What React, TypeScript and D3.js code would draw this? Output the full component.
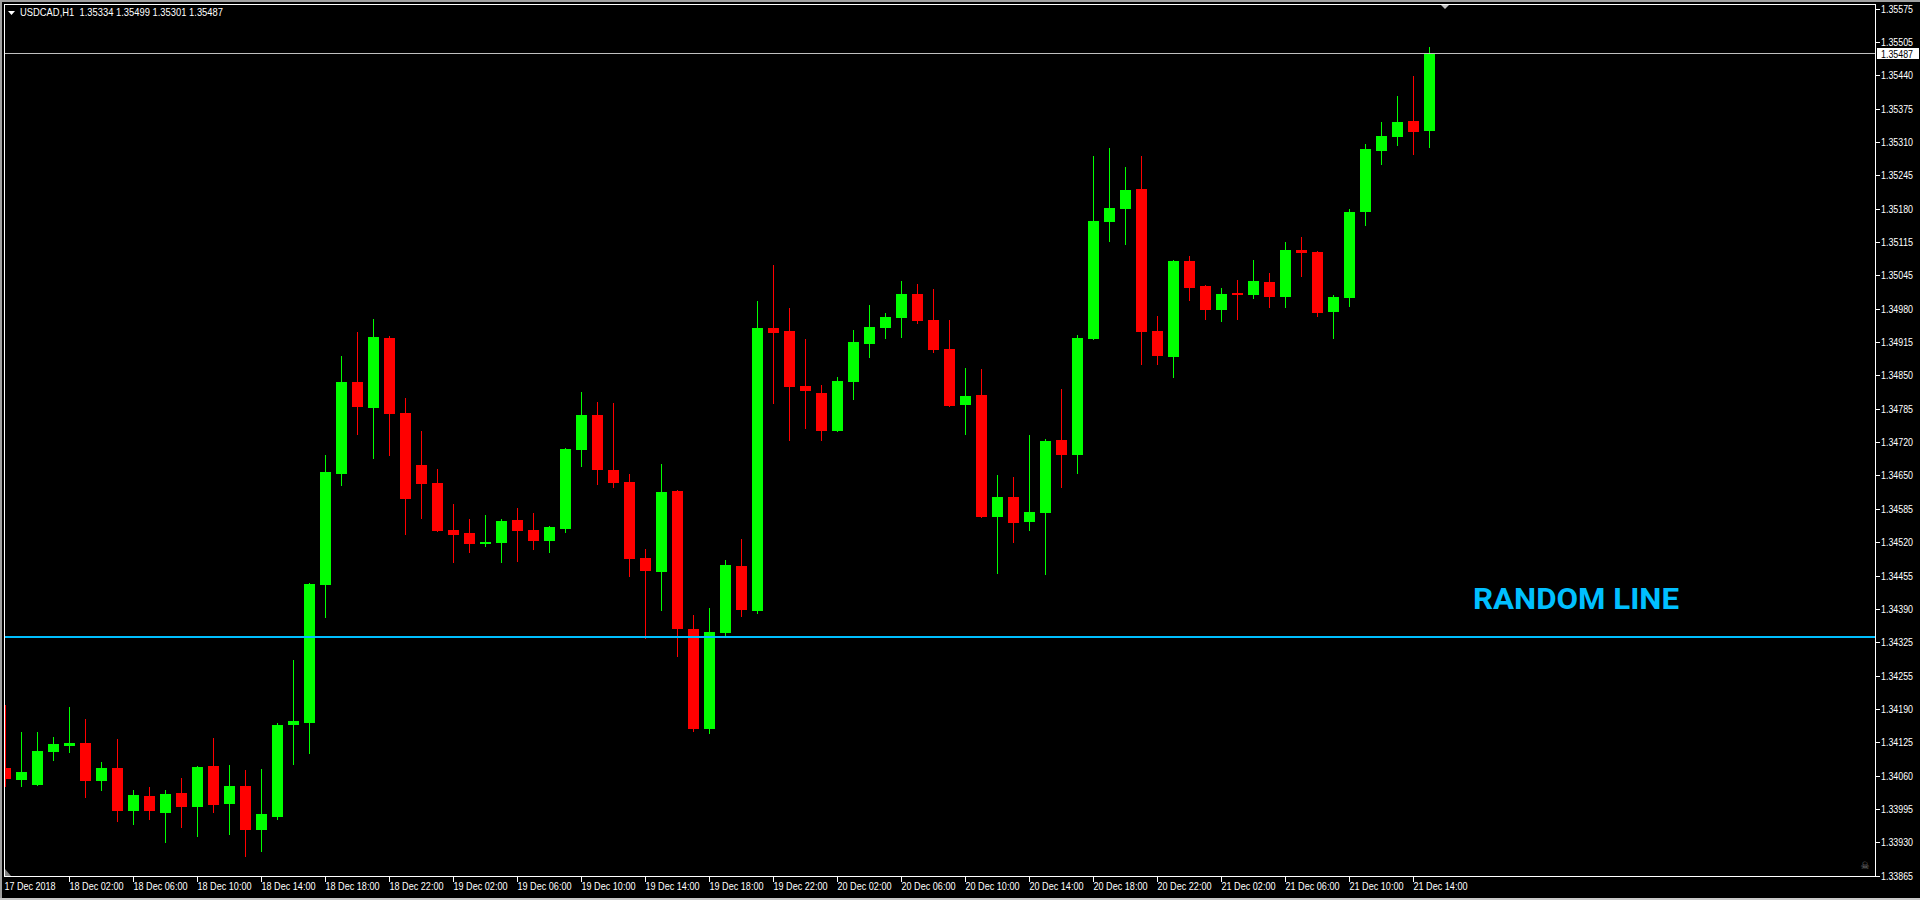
import { useEffect, useRef } from "react"
import * as d3 from "d3"

// USDCAD H1 bars, 17 Dec 2018 22:00 -> 21 Dec 2018 15:00
const opens = [
  1.34077, 1.34053, 1.34044, 1.34109, 1.34120, 1.34126, 1.34051, 1.34077, 1.33992, 1.34022,
  1.33988, 1.34028, 1.34000, 1.34081, 1.34006, 1.34042, 1.33955, 1.33980, 1.34162, 1.34166,
  1.34438, 1.34657, 1.34839, 1.34787, 1.34925, 1.34777, 1.34675, 1.34639, 1.34547, 1.34541,
  1.34519, 1.34521, 1.34566, 1.34547, 1.34525, 1.34549, 1.34704, 1.34773, 1.34665, 1.34641,
  1.34491, 1.34464, 1.34623, 1.34351, 1.34154, 1.34343, 1.34475, 1.34387, 1.34945, 1.34939,
  1.34831, 1.34817, 1.34742, 1.34839, 1.34913, 1.34945, 1.34965, 1.35012, 1.34961, 1.34904,
  1.34793, 1.34813, 1.34572, 1.34612, 1.34562, 1.34580, 1.34724, 1.34695, 1.34923, 1.35154,
  1.35180, 1.35219, 1.34939, 1.34888, 1.35077, 1.35028, 1.34981, 1.35014, 1.35010, 1.35036,
  1.35006, 1.35099, 1.35095, 1.34977, 1.35004, 1.35174, 1.35294, 1.35322, 1.35353, 1.35334,
]
const highs = [
  1.34201, 1.34148, 1.34148, 1.34138, 1.34197, 1.34174, 1.34089, 1.34134, 1.34034, 1.34040,
  1.34034, 1.34057, 1.34081, 1.34136, 1.34083, 1.34073, 1.34075, 1.34166, 1.34290, 1.34442,
  1.34695, 1.34890, 1.34937, 1.34963, 1.34929, 1.34807, 1.34742, 1.34667, 1.34598, 1.34568,
  1.34576, 1.34568, 1.34590, 1.34580, 1.34554, 1.34708, 1.34819, 1.34799, 1.34797, 1.34657,
  1.34509, 1.34677, 1.34625, 1.34379, 1.34393, 1.34487, 1.34529, 1.34998, 1.35069, 1.34984,
  1.34923, 1.34833, 1.34848, 1.34941, 1.34990, 1.34975, 1.35038, 1.35032, 1.35022, 1.34961,
  1.34866, 1.34864, 1.34655, 1.34651, 1.34734, 1.34726, 1.34825, 1.34931, 1.35284, 1.35300,
  1.35263, 1.35284, 1.34969, 1.35079, 1.35087, 1.35030, 1.35024, 1.35040, 1.35079, 1.35054,
  1.35115, 1.35125, 1.35097, 1.35010, 1.35180, 1.35308, 1.35351, 1.35403, 1.35442, 1.35499,
]
const lows = [
  1.34040, 1.34040, 1.34042, 1.34091, 1.34107, 1.34018, 1.34032, 1.33971, 1.33965, 1.33975,
  1.33929, 1.33959, 1.33941, 1.33988, 1.33945, 1.33902, 1.33911, 1.33975, 1.34083, 1.34105,
  1.34373, 1.34633, 1.34734, 1.34687, 1.34693, 1.34537, 1.34568, 1.34543, 1.34481, 1.34501,
  1.34513, 1.34481, 1.34483, 1.34507, 1.34501, 1.34541, 1.34671, 1.34635, 1.34629, 1.34454,
  1.34332, 1.34387, 1.34296, 1.34148, 1.34144, 1.34334, 1.34375, 1.34381, 1.34795, 1.34722,
  1.34746, 1.34722, 1.34740, 1.34803, 1.34886, 1.34923, 1.34925, 1.34953, 1.34896, 1.34789,
  1.34734, 1.34570, 1.34460, 1.34521, 1.34545, 1.34458, 1.34629, 1.34657, 1.34921, 1.35115,
  1.35109, 1.34872, 1.34872, 1.34846, 1.34998, 1.34961, 1.34957, 1.34961, 1.35002, 1.34984,
  1.34984, 1.35046, 1.34967, 1.34923, 1.34986, 1.35146, 1.35267, 1.35304, 1.35286, 1.35301,
]
const closes = [
  1.34055, 1.34069, 1.34111, 1.34124, 1.34126, 1.34051, 1.34077, 1.33992, 1.34024, 1.33992,
  1.34026, 1.34000, 1.34079, 1.34004, 1.34042, 1.33955, 1.33986, 1.34162, 1.34170, 1.34440,
  1.34661, 1.34839, 1.34789, 1.34927, 1.34775, 1.34608, 1.34637, 1.34545, 1.34537, 1.34519,
  1.34523, 1.34564, 1.34545, 1.34525, 1.34552, 1.34706, 1.34773, 1.34665, 1.34639, 1.34489,
  1.34466, 1.34622, 1.34351, 1.34154, 1.34345, 1.34477, 1.34389, 1.34945, 1.34935, 1.34829,
  1.34821, 1.34742, 1.34840, 1.34917, 1.34947, 1.34967, 1.35012, 1.34959, 1.34902, 1.34791,
  1.34811, 1.34572, 1.34612, 1.34560, 1.34582, 1.34722, 1.34695, 1.34925, 1.35156, 1.35182,
  1.35217, 1.34937, 1.34890, 1.35077, 1.35024, 1.34981, 1.35012, 1.35010, 1.35038, 1.35006,
  1.35099, 1.35093, 1.34975, 1.35006, 1.35174, 1.35298, 1.35324, 1.35351, 1.35332, 1.35487,
]

const firstBar = new Date(2018, 11, 17, 22)

const timeLabels = [
  "17 Dec 2018", "18 Dec 02:00", "18 Dec 06:00", "18 Dec 10:00", "18 Dec 14:00", "18 Dec 18:00",
  "18 Dec 22:00", "19 Dec 02:00", "19 Dec 06:00", "19 Dec 10:00", "19 Dec 14:00", "19 Dec 18:00",
  "19 Dec 22:00", "20 Dec 02:00", "20 Dec 06:00", "20 Dec 10:00", "20 Dec 14:00", "20 Dec 18:00",
  "20 Dec 22:00", "21 Dec 02:00", "21 Dec 06:00", "21 Dec 10:00", "21 Dec 14:00",
]

// top to bottom, as on the price scale
const priceLabels = [
  "1.35575", "1.35505", "1.35440", "1.35375", "1.35310", "1.35245", "1.35180", "1.35115", "1.35045",
  "1.34980", "1.34915", "1.34850", "1.34785", "1.34720", "1.34650", "1.34585", "1.34520", "1.34455",
  "1.34390", "1.34325", "1.34255", "1.34190", "1.34125", "1.34060", "1.33995", "1.33930", "1.33865",
]

const priceMin = 1.33865
const priceMax = 1.35575
const lastPrice = 1.35487
const randomLinePrice = 1.34337
const header = "USDCAD,H1  1.35334 1.35499 1.35301 1.35487"

const W = 1920
const H = 900
const font = "'Liberation Sans', Arial, sans-serif"

export default function App() {
  const ref = useRef<SVGSVGElement>(null)

  useEffect(() => {
    const svg = d3.select(ref.current)
    svg.selectAll("*").remove()

    const left = 4.5, right = 1875.5, top = 4.5, bottom = 876.5

    const x = d3.scaleTime()
      .domain([firstBar, d3.timeHour.offset(firstBar, opens.length - 1)])
      .range([5.3, 1429.3])
    const y = d3.scaleLinear().domain([priceMin, priceMax]).range([875.6, 8.7])

    // the terminal font is narrow, so squeeze the text to its widths
    const label = (g: any, tx: number, ty: number, s: string, len: number, fill = "#fff") =>
      g.append("text").attr("x", tx).attr("y", ty).attr("fill", fill)
        .attr("textLength", len).attr("lengthAdjust", "spacingAndGlyphs")
        .style("font-family", font).style("font-size", "11px").style("white-space", "pre").text(s)

    svg.append("rect").attr("width", W).attr("height", H).attr("fill", "#000")

    // window edges
    svg.append("rect").attr("x", 0).attr("y", 0).attr("width", W).attr("height", 2).attr("fill", "#a0a0a0")
    svg.append("rect").attr("x", 0).attr("y", 0).attr("width", 2).attr("height", H).attr("fill", "#a0a0a0")
    svg.append("rect").attr("x", 0).attr("y", H - 2).attr("width", W).attr("height", 2).attr("fill", "#c8c8c8")

    svg.append("defs").append("clipPath").attr("id", "plot")
      .append("rect").attr("x", left + 0.5).attr("y", top + 0.5)
      .attr("width", right - left - 1).attr("height", bottom - top - 1)

    const plot = svg.append("g").attr("clip-path", "url(#plot)").attr("shape-rendering", "crispEdges")

    const bars = opens.map((o, i) => ({
      t: d3.timeHour.offset(firstBar, i), o, h: highs[i], l: lows[i], c: closes[i],
    }))

    const candle = plot.selectAll("g.candle").data(bars).join("g").attr("class", "candle")
    candle.append("rect")
      .attr("x", d => Math.floor(x(d.t)))
      .attr("width", 1)
      .attr("y", d => Math.round(y(d.h)))
      .attr("height", d => Math.max(1, Math.round(y(d.l)) - Math.round(y(d.h))))
      .attr("fill", d => d.c >= d.o ? "#00ff00" : "#ff0000")
    candle.append("rect")
      .attr("x", d => Math.floor(x(d.t)) - 5)
      .attr("width", 11)
      .attr("y", d => Math.round(y(Math.max(d.o, d.c))))
      .attr("height", d => Math.max(2, Math.round(y(Math.min(d.o, d.c))) - Math.round(y(Math.max(d.o, d.c)))))
      .attr("fill", d => d.c >= d.o ? "#00ff00" : "#ff0000")

    // horizontal lines
    plot.append("line")
      .attr("x1", left).attr("x2", right)
      .attr("y1", Math.round(y(randomLinePrice)) + 0.5).attr("y2", Math.round(y(randomLinePrice)) + 0.5)
      .attr("stroke", "#00bfff").attr("stroke-width", 2)
    plot.append("line")
      .attr("x1", left).attr("x2", right)
      .attr("y1", Math.round(y(lastPrice)) + 0.5).attr("y2", Math.round(y(lastPrice)) + 0.5)
      .attr("stroke", "#c0c0c0").attr("stroke-width", 1)

    // frame
    svg.append("rect")
      .attr("x", left).attr("y", top).attr("width", right - left).attr("height", bottom - top)
      .attr("fill", "none").attr("stroke", "#fff").attr("shape-rendering", "crispEdges")

    // price scale
    const step = (priceMax - priceMin) / (priceLabels.length - 1)
    const yAxis = svg.append("g")
    priceLabels.forEach((lab, j) => {
      const yy = y(priceMax - j * step)
      yAxis.append("line").attr("x1", right).attr("x2", right + 4)
        .attr("y1", Math.round(yy) + 0.5).attr("y2", Math.round(yy) + 0.5)
        .attr("stroke", "#fff").attr("shape-rendering", "crispEdges")
      label(yAxis, 1881, yy + 4, lab, 32)
    })

    // last price tag
    const ly = Math.round(y(lastPrice))
    svg.append("rect").attr("x", 1877).attr("y", ly - 5).attr("width", 42).attr("height", 11).attr("fill", "#fff")
    label(svg, 1881, ly + 4.5, lastPrice.toFixed(5), 32, "#000")

    // time scale
    const xAxis = svg.append("g")
    timeLabels.forEach((lab, j) => {
      const xx = Math.floor(x(d3.timeHour.offset(firstBar, 4 * j))) + 0.5
      if (j > 0) {
        xAxis.append("line").attr("x1", xx).attr("x2", xx).attr("y1", bottom).attr("y2", bottom + 5)
          .attr("stroke", "#fff").attr("shape-rendering", "crispEdges")
      }
      label(xAxis, j === 0 ? left : xx, 890, lab, j === 0 ? 51 : 54)
    })

    // header
    svg.append("path").attr("d", "M8,11 L15,11 L11.5,15 Z").attr("fill", "#fff")
    label(svg, 20, 16, header, 203)

    // chart shift marker
    svg.append("path").attr("d", "M1441,5 L1449,5 L1445,9 Z").attr("fill", "#c0c0c0")

    // corner markers
    svg.append("path").attr("d", "M5,869 L5,876 L11,876 Z").attr("fill", "#808080")
    svg.append("text").attr("x", 1865).attr("y", 869).attr("text-anchor", "middle")
      .attr("fill", "#808080").style("font-family", "'DejaVu Sans', sans-serif").style("font-size", "10px").text("\u2620")

    svg.append("text").attr("x", 1473).attr("y", 609)
      .attr("textLength", 206).attr("lengthAdjust", "spacingAndGlyphs")
      .attr("fill", "#00bfff").style("font-family", "Roboto, 'Open Sans', sans-serif")
      .style("font-size", "30px").style("font-weight", "bold").text("RANDOM LINE")
  }, [])

  return (
    <svg ref={ref} width={W} height={H}
      style={{ position: "absolute", left: 0, top: 0, display: "block" }} />
  )
}
